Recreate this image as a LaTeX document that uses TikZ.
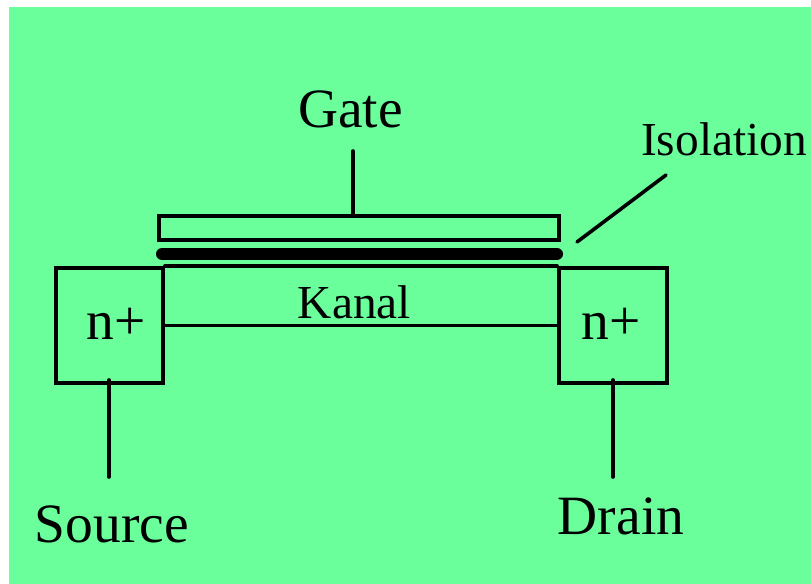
\documentclass[tikz,border=0pt]{standalone}
\usepackage{fontspec}
\setmainfont{Liberation Serif}
\definecolor{bggreen}{HTML}{6AFF9B}
\tikzset{
  x=0.75pt,y=-0.75pt,
  part/.style={draw=black,line width=2.7pt,fill=none,inner sep=0pt,minimum width=#1},
  wire/.style={line width=2.7pt,line cap=round},
  lab/.style={inner sep=0pt,anchor=base,text=black},
  biglab/.style={lab,font=\fontsize{41.6}{42}\selectfont},
  midlab/.style={lab,font=\fontsize{35.5}{36}\selectfont},
}
\begin{document}
\begin{tikzpicture}
\useasboundingbox (0,0) rectangle (811,584);
\fill[white] (0,0) rectangle (811,584);
\fill[bggreen] (9,7) rectangle (811,584);
% gate plate, insulation bar
\node[part=300pt,minimum height=18pt,line width=2.6pt] (gateplate) at (359,228) {};
\coordinate (barL) at (162,254);
\coordinate (barR) at (557,254);
\draw[line width=9pt,line cap=round] (barL) -- (barR);
% contacts
\node[part=80.25pt,minimum height=86.25pt] (nl) at (109.5,325.5) {};
\node[part=81pt,minimum height=86.25pt] (nr) at (613,325.5) {};
% channel
\draw[wire] (nl.north east) -- (nr.north west);
\draw[wire] (nl.east) -- (nr.west);
% free-end coordinates
\coordinate (gtop) at (353,151);
\coordinate (gbot) at (353,216);
\coordinate (sTop) at (109,380);
\coordinate (sEnd) at (109,477);
\coordinate (dTop) at (613,380);
\coordinate (dEnd) at (613,477);
\coordinate (isoA) at (666,175);
\coordinate (isoB) at (577,242);
\draw[wire] (gtop) -- (gbot);
\draw[wire] (sTop) -- (sEnd);
\draw[wire] (dTop) -- (dEnd);
\draw[wire] (isoA) -- (isoB);
% labels
\node[biglab] (gate) at (350.5,128) {Gate};
\node[midlab] (iso) at (724,156) {Isolation};
\node[midlab] (kanal) at (354.5,319) {Kanal};
\node[biglab] (nlt) at (116,340) {n+};
\node[biglab] (nrt) at (611.5,340) {n+};
\node[biglab] (source) at (112,542) {Source};
\node[biglab] (drain) at (621,534.5) {Drain};
\end{tikzpicture}
\end{document}
